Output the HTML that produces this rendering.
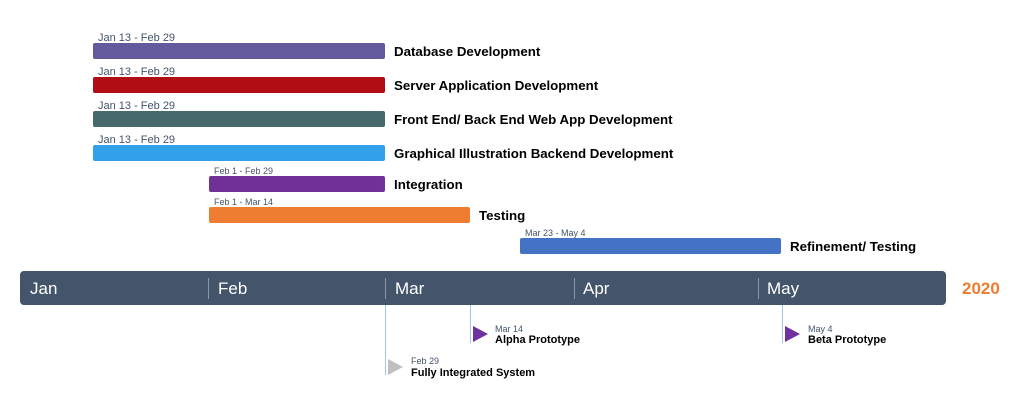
<!DOCTYPE html>
<html><head><style>
body{margin:0;width:1027px;height:403px;background:#fff;position:relative;font-family:"Liberation Sans",Arial,sans-serif;overflow:hidden}
.b{position:absolute;border-radius:2px}
.d{position:absolute;color:#44546a;font-size:11px;line-height:11px}
.s{position:absolute;color:#44546a;font-size:9px;line-height:9px}
.l{position:absolute;font-weight:bold;font-size:13.3px;color:#000;line-height:16px}
.m{position:absolute;color:#fff;font-size:17px;top:279px;line-height:20px}
.v{position:absolute;width:1px;background:#9fc5e8}
.dv{position:absolute;width:1px;background:#8a96a8;top:278px;height:21px}
.t{position:absolute;width:0;height:0;border-top:8px solid transparent;border-bottom:8px solid transparent;border-left:15px solid #7030a0}
.ml{position:absolute;font-weight:bold;font-size:11px;line-height:13px;color:#000}
</style></head><body>
<div class="d" style="left:98px;top:33px">Jan 13 - Feb 29</div>
<div class="b" style="left:93px;top:43px;width:292px;height:16px;background:#625a9c"></div>
<div class="l" style="left:394px;top:44px">Database Development</div>
<div class="d" style="left:98px;top:67px">Jan 13 - Feb 29</div>
<div class="b" style="left:93px;top:77px;width:292px;height:16px;background:#b10d14"></div>
<div class="l" style="left:394px;top:78px">Server Application Development</div>
<div class="d" style="left:98px;top:101px">Jan 13 - Feb 29</div>
<div class="b" style="left:93px;top:111px;width:292px;height:16px;background:#466a6b"></div>
<div class="l" style="left:394px;top:112px">Front End/ Back End Web App Development</div>
<div class="d" style="left:98px;top:135px">Jan 13 - Feb 29</div>
<div class="b" style="left:93px;top:145px;width:292px;height:16px;background:#33a1e9"></div>
<div class="l" style="left:394px;top:146px">Graphical Illustration Backend Development</div>
<div class="s" style="left:214px;top:167px">Feb 1 - Feb 29</div>
<div class="b" style="left:209px;top:176px;width:176px;height:16px;background:#703096"></div>
<div class="l" style="left:394px;top:177px">Integration</div>
<div class="s" style="left:214px;top:198px">Feb 1 - Mar 14</div>
<div class="b" style="left:209px;top:207px;width:261px;height:16px;background:#ee7d31"></div>
<div class="l" style="left:479px;top:208px">Testing</div>
<div class="s" style="left:525px;top:229px">Mar 23 - May 4</div>
<div class="b" style="left:520px;top:238px;width:261px;height:16px;background:#4472c4"></div>
<div class="l" style="left:790px;top:239px">Refinement/ Testing</div>

<div class="b" style="left:20px;top:271px;width:926px;height:34px;background:#44546a;border-radius:4px"></div>
<div class="m" style="left:30px">Jan</div>
<div class="dv" style="left:208px"></div><div class="m" style="left:218px">Feb</div>
<div class="dv" style="left:385px"></div><div class="m" style="left:395px">Mar</div>
<div class="dv" style="left:574px"></div><div class="m" style="left:583px">Apr</div>
<div class="dv" style="left:758px"></div><div class="m" style="left:767px">May</div>
<div style="position:absolute;left:962px;top:279px;color:#ee7d31;font-weight:bold;font-size:17px;line-height:20px">2020</div>

<div class="v" style="left:385px;top:305px;height:70px"></div>
<div class="v" style="left:470px;top:305px;height:38px"></div>
<div class="v" style="left:782px;top:305px;height:38px"></div>
<div class="t" style="left:473px;top:326px"></div>
<div class="t" style="left:785px;top:326px"></div>
<div class="t" style="left:388px;top:359px;border-left-color:#c0c0c0"></div>
<div class="s" style="left:495px;top:325px">Mar 14</div>
<div class="ml" style="left:495px;top:334px">Alpha Prototype</div>
<div class="s" style="left:808px;top:325px">May 4</div>
<div class="ml" style="left:808px;top:334px">Beta Prototype</div>
<div class="s" style="left:411px;top:357px">Feb 29</div>
<div class="ml" style="left:411px;top:367px">Fully Integrated System</div>
</body></html>
